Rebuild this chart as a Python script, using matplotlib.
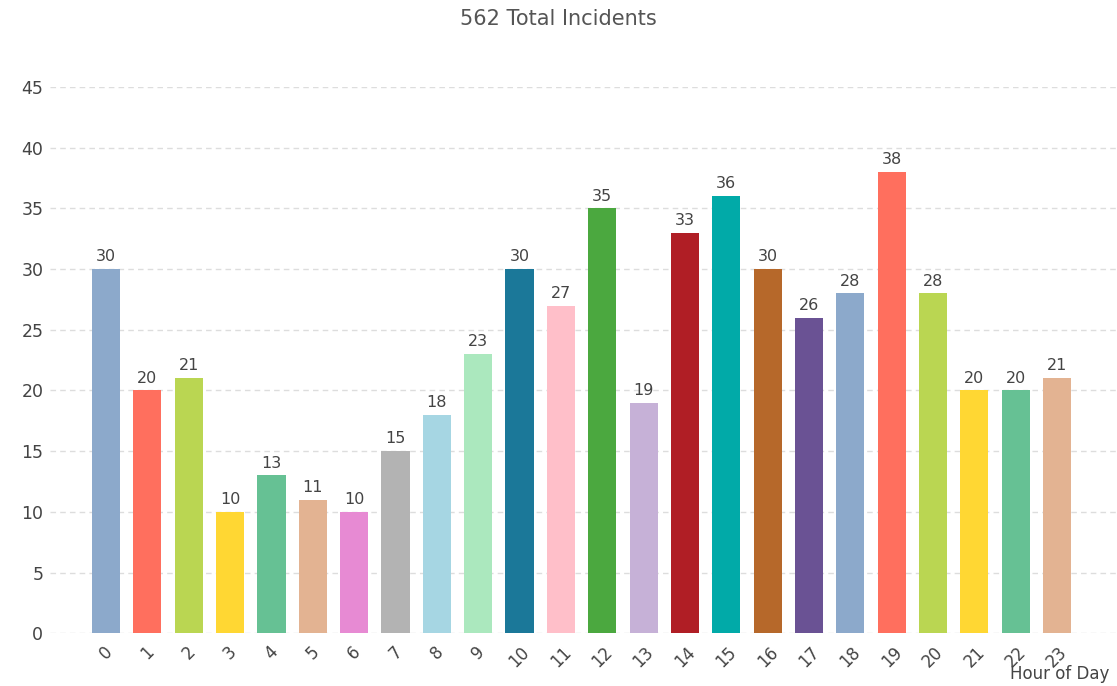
import numpy as np
import matplotlib
matplotlib.use('Agg')
import matplotlib.pyplot as plt

# hourly incident counts
hours = [str(h) for h in range(24)]
counts = [30, 20, 21, 10, 13, 11, 10, 15, 18, 23, 30, 27,
          35, 19, 33, 36, 30, 26, 28, 38, 28, 20, 20, 21]
palette = ['#8CA9CB', '#FF6F5E', '#BAD652', '#FFD733', '#66C194', '#E3B392',
           '#E78AD3', '#B3B3B3', '#A6D6E3', '#ABE8BE', '#1B7899', '#FFBFC9',
           '#4BA83F', '#C6B1D7', '#B01E25', '#01AAA8', '#B6682A', '#6A5294']
colors = [palette[i % len(palette)] for i in range(len(counts))]
yticks = [0, 5, 10, 15, 20, 25, 30, 35, 40, 45]

fig = plt.figure(figsize=(11.17, 6.86), dpi=100)
ax = fig.add_axes([0.045, 0.077, 0.955, 0.796])

x = np.arange(len(counts))
bars = ax.bar(x, counts, width=0.68, color=colors, zorder=3)
for xi, v in zip(x, counts):
    ax.text(xi, v + 0.4, str(v), ha='center', va='bottom', fontsize=11.5, color='#444444')

ax.set_xlim(-1.35, 24.45)
ax.set_ylim(0, 45)
ax.set_yticks(yticks)
ax.set_xticks(x)
ax.set_xticklabels(hours, rotation=45, ha='center', fontsize=12, color='#444444')
ax.tick_params(axis='y', labelsize=12.5, labelcolor='#444444', length=0, pad=5)
ax.tick_params(axis='x', length=0, pad=7)
ax.grid(axis='y', linestyle=(0, (4, 3)), color='#dddddd', linewidth=1, zorder=0)
for s in ax.spines.values():
    s.set_visible(False)

fig.text(0.5, 0.972, '562 Total Incidents', ha='center', va='center', fontsize=15, color='#555555')
fig.text(0.993, 0.018, 'Hour of Day', ha='right', va='center', fontsize=12, color='#444444')

fig.savefig('out.png', dpi=100)
